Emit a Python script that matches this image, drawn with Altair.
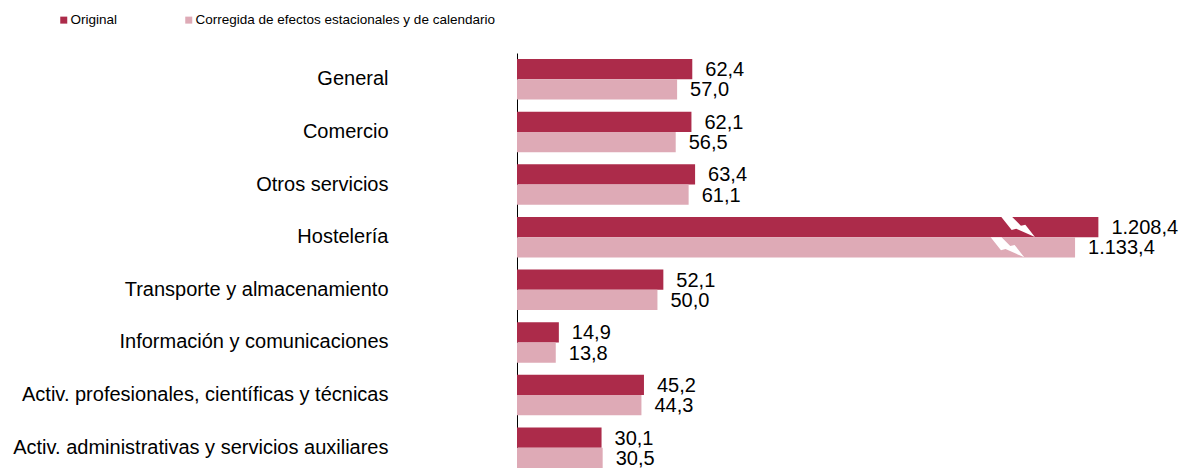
import altair as alt
import pandas as pd

categories = [
    "General",
    "Comercio",
    "Otros servicios",
    "Hostelería",
    "Transporte y almacenamiento",
    "Información y comunicaciones",
    "Activ. profesionales, científicas y técnicas",
    "Activ. administrativas y servicios auxiliares",
]
series_names = ["Original", "Corregida de efectos estacionales y de calendario"]
original = [62.4, 62.1, 63.4, 1208.4, 52.1, 14.9, 45.2, 30.1]
corregida = [57.0, 56.5, 61.1, 1133.4, 50.0, 13.8, 44.3, 30.5]
colors = ["#AC2B4A", "#DEAAB6"]

# broken-axis compression for very large values (drawn shorter with a break)
BREAK_THRESHOLD = 200
BREAK_INTERCEPT = 73.2
BREAK_SLOPE = 0.1107
BREAK_BACK = {series_names[0]: 28.5, series_names[1]: 24.0}


def fmt_es(v):
    s = f"{v:,.1f}"
    return s.replace(",", "X").replace(".", ",").replace("X", ".")


rows = []
for i, c in enumerate(categories):
    for s, vals in zip(series_names, [original, corregida]):
        v = vals[i]
        broken = v >= BREAK_THRESHOLD
        disp = BREAK_INTERCEPT + BREAK_SLOPE * v if broken else v
        rows.append({
            "cat": c,
            "serie": s,
            "value": v,
            "disp": disp,
            "label": fmt_es(v),
            "broken": broken,
            "bx": disp - BREAK_BACK[s],
        })
df = pd.DataFrame(rows)

W, H = 600, 415
px_per_unit = 2.809
xdom = [0, W / px_per_unit]
FONT = "Liberation Sans"

y_enc = alt.Y(
    "cat:N",
    sort=categories,
    scale=alt.Scale(paddingInner=0.23, paddingOuter=0.0575, align=1),
    axis=alt.Axis(
        title=None,
        ticks=False,
        tickSize=0,
        labelPadding=129,
        labelLimit=600,
        labelFont=FONT,
        labelFontSize=20,
        labelColor="#000000",
        domainColor="#000000",
        domainWidth=1,
        grid=False,
    ),
)
yoff = alt.YOffset("serie:N", sort=series_names, scale=alt.Scale(paddingInner=0, paddingOuter=0))
x_enc = alt.X("disp:Q", scale=alt.Scale(domain=xdom, nice=False, zero=True), axis=None)

base = alt.Chart(df)

bars = base.mark_bar(cornerRadius=0, strokeWidth=0).encode(
    y=y_enc,
    yOffset=yoff,
    x=x_enc,
    color=alt.Color(
        "serie:N",
        sort=series_names,
        scale=alt.Scale(domain=series_names, range=colors),
        legend=alt.Legend(
            title=None,
            orient="none",
            legendX=-460,
            legendY=-40,
            direction="horizontal",
            symbolType="square",
            symbolSize=49,
            symbolStrokeWidth=0,
            labelFont=FONT,
            labelFontSize=13.5,
            labelColor="#000000",
            labelOffset=0,
            columnPadding=64,
            labelLimit=600,
        ),
    ),
)

labels = base.mark_text(
    align="left", baseline="middle", dx=13, dy=1,
    font=FONT, fontSize=20, color="#000000",
).encode(
    y=alt.Y("cat:N", sort=categories),
    yOffset=alt.YOffset("serie:N", sort=series_names),
    x=alt.X("disp:Q"),
    text="label:N",
)

bolt = (
    "M -0.97 -0.57 L -0.35 -0.57 L 0.15 -0.08 L 0.40 -0.14 L 0.95 0.57 "
    "L -0.12 0.10 L -0.38 0.16 Z"
)
breaks = base.transform_filter("datum.broken").mark_point(
    shape=bolt, filled=True, fill="#FFFFFF", color="#FFFFFF", opacity=1,
    strokeWidth=0, size=1225,
).encode(
    y=alt.Y("cat:N", sort=categories),
    yOffset=alt.YOffset("serie:N", sort=series_names),
    x=alt.X("bx:Q"),
)

chart = (
    alt.layer(bars, breaks, labels)
    .properties(
        width=W,
        height=H,
        autosize=alt.AutoSizeParams(type="none"),
        padding={"left": 517, "top": 53, "right": 62, "bottom": 0},
    )
    .configure(background="#FFFFFF")
    .configure_view(stroke="transparent", strokeWidth=0)
)

chart.save("out.html", embed_options={"renderer": "svg", "actions": False})
